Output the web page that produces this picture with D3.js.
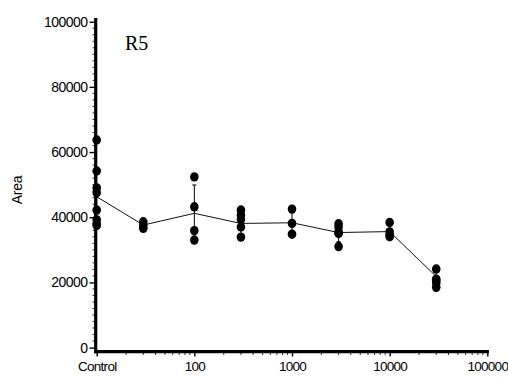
<!DOCTYPE html>
<html><head><meta charset="utf-8">
<script src="https://cdn.jsdelivr.net/npm/d3@7"></script>
<style>
html,body{margin:0;padding:0;background:#fff;}
</style></head>
<body><svg id="c" width="508" height="379"></svg>
<script>
// Data (concentration; "Control" plotted at 10 on the log axis)
const doses = [10, 30, 100, 300, 1000, 3000, 10000, 30000];
const points = [
  [63700, 54200, 49000, 47500, 42200, 39200, 38000, 37500],
  [38600, 37500, 36600],
  [52400, 43200, 35900, 33000],
  [42200, 40700, 39300, 37000, 33900],
  [42500, 38100, 34800],
  [38000, 37000, 35500, 35000, 31000],
  [38400, 35500, 34500, 34000],
  [24100, 21000, 20600, 19800, 18500]
];
const means = [46300, 37600, 41200, 38100, 38300, 35300, 35600, 21800];
const sds   = [9000, 1000, 8700, 3300, 3800, 2800, 2000, 2300];
const xTickValues = [10, 100, 1000, 10000, 100000];
const xTickLabels = ["Control", "100", "1000", "10000", "100000"];
const yTickValues = [0, 20000, 40000, 60000, 80000, 100000];
const title = "R5";
const yLabel = "Area";

const SANS = "'Liberation Sans', Arial, sans-serif";
const svg = d3.select("#c");
const x = d3.scaleLog().domain([10, 100000]).range([96.7, 487.3]);
const y = d3.scaleLinear().domain([0, 100000]).range([347.6, 21.7]);

// Y axis minor ticks
const yMinor = d3.range(0, 100001, 2000).filter(v => v % 20000 !== 0);
svg.append("g").selectAll("line").data(yMinor).join("line")
  .attr("x1", 92.5).attr("x2", 94.5)
  .attr("y1", d => y(d)).attr("y2", d => y(d))
  .attr("stroke", "#000").attr("stroke-width", 0.8);

// Y axis
const yAxis = d3.axisLeft(y).tickValues(yTickValues).tickFormat(d3.format("d")).tickSize(5).tickPadding(2);
const gy = svg.append("g").attr("transform", "translate(94.5,0)").call(yAxis);
gy.select(".domain").remove();
gy.selectAll(".tick line").attr("stroke-width", 1.4);
gy.selectAll(".tick text").attr("font-size", "14px").attr("letter-spacing", "-0.55px")
  .attr("fill", "#000").attr("font-family", SANS);
svg.append("line").attr("x1", 95.7).attr("x2", 95.7).attr("y1", 18).attr("y2", 353.2)
  .attr("stroke", "#000").attr("stroke-width", 3.2);

// X axis minor ticks
const xMinor = [];
for (let dec = 10; dec < 100000; dec *= 10) for (let k = 2; k <= 9; k++) xMinor.push(dec * k);
svg.append("g").selectAll("line").data(xMinor).join("line")
  .attr("x1", d => x(d)).attr("x2", d => x(d))
  .attr("y1", 353).attr("y2", 355)
  .attr("stroke", "#000").attr("stroke-width", 0.8);

// X axis
const xAxis = d3.axisBottom(x).tickValues(xTickValues)
  .tickFormat((d, i) => xTickLabels[i]).tickSize(4.5).tickPadding(5);
const gx = svg.append("g").attr("transform", "translate(0,352)").call(xAxis);
gx.select(".domain").remove();
gx.selectAll(".tick line").attr("stroke-width", 1.4);
gx.selectAll(".tick text").attr("font-size", "13.5px").attr("letter-spacing", "-0.7px")
  .attr("fill", "#000").attr("font-family", SANS);
svg.append("line").attr("x1", 94.2).attr("x2", 489).attr("y1", 351.7).attr("y2", 351.7)
  .attr("stroke", "#000").attr("stroke-width", 3.2);

// Mean line
const line = d3.line().x((d, i) => x(doses[i])).y(d => y(d));
svg.append("path").attr("d", line(means)).attr("fill", "none")
  .attr("stroke", "#111").attr("stroke-width", 1);

// Error bars
const eb = svg.append("g").attr("stroke", "#000").attr("stroke-width", 1);
doses.forEach((d, i) => {
  const cx = x(d), top = y(means[i] + sds[i]), bot = y(means[i] - sds[i]);
  eb.append("line").attr("x1", cx).attr("x2", cx).attr("y1", top).attr("y2", bot);
  eb.append("line").attr("x1", cx - 2).attr("x2", cx + 2).attr("y1", top).attr("y2", top);
  eb.append("line").attr("x1", cx - 2).attr("x2", cx + 2).attr("y1", bot).attr("y2", bot);
});

// Points
const pts = [];
points.forEach((arr, i) => arr.forEach(v => pts.push({ d: doses[i], v })));
svg.append("g").selectAll("ellipse").data(pts).join("ellipse")
  .attr("cx", p => x(p.d)).attr("cy", p => y(p.v))
  .attr("rx", 4.3).attr("ry", 4.7).attr("fill", "#000");

// Title
svg.append("text").attr("x", 125).attr("y", 50).text(title)
  .attr("font-family", "'Liberation Serif', 'Times New Roman', serif").attr("font-size", "20px").attr("fill", "#000");

// Y label
svg.append("text").attr("transform", "translate(22,190) rotate(-90)")
  .attr("text-anchor", "middle").text(yLabel)
  .attr("font-family", SANS).attr("font-size", "14px").attr("letter-spacing", "-0.3px").attr("fill", "#000");
</script></body></html>
